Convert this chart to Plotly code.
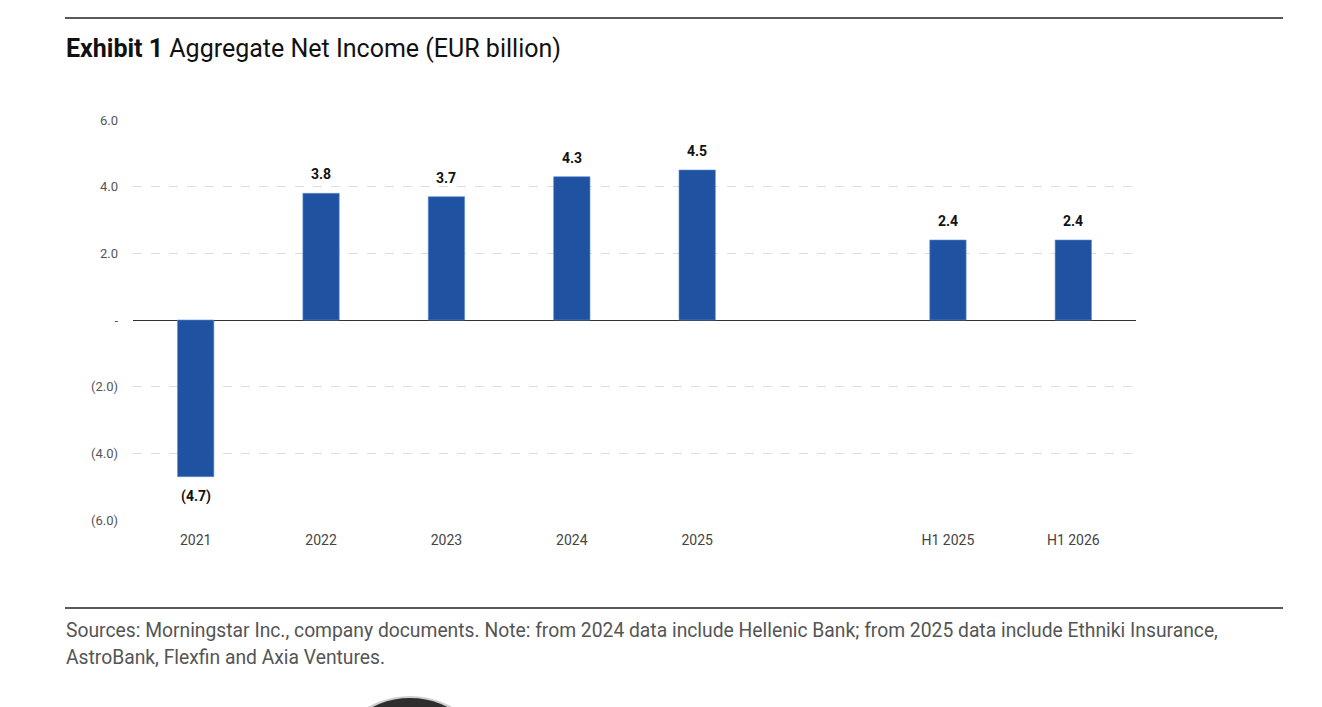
import plotly.graph_objects as go

categories = ["2021", "2022", "2023", "2024", "2025", " ", "H1 2025", "H1 2026"]
values = [-4.7, 3.8, 3.7, 4.3, 4.5, None, 2.4, 2.4]
y_tickvals = [-6, -4, -2, 0, 2, 4, 6]
y_ticktext = ["(6.0)", "(4.0)", "(2.0)", "-", "2.0", "4.0", "6.0"]

FONT = "Roboto, Liberation Sans Narrow, sans-serif"
BAR = "#1f52a0"


def fmt(v):
    return f"({abs(v):.1f})" if v < 0 else f"{v:.1f}"


fig = go.Figure()
fig.add_trace(go.Bar(
    x=categories, y=values,
    marker=dict(color=BAR, line=dict(color="#5d8fd6", width=0.6)),
    hoverinfo="x+y", showlegend=False,
))

annotations = []
for i, v in enumerate(values):
    if v is None:
        continue
    annotations.append(dict(
        x=i, y=v, xref="x", yref="y", text=f"<b>{fmt(v)}</b>", showarrow=False,
        yanchor="bottom" if v >= 0 else "top", yshift=9 if v >= 0 else -9,
        font=dict(family=FONT, size=14, color="#111"),
    ))

annotations += [
    dict(x=-0.069, y=1.18, xref="paper", yref="paper", xanchor="left", yanchor="middle",
         showarrow=False,
         text="<b>Exhibit 1</b> Aggregate Net Income (EUR billion)",
         font=dict(family=FONT, size=25, color="#111")),
    dict(x=-0.069, y=-0.275, xref="paper", yref="paper", xanchor="left", yanchor="middle",
         showarrow=False,
         text="Sources: Morningstar Inc., company documents. Note: from 2024 data include Hellenic Bank; from 2025 data include Ethniki Insurance,",
         font=dict(family=FONT, size=19.3, color="#555")),
    dict(x=-0.069, y=-0.3425, xref="paper", yref="paper", xanchor="left", yanchor="middle",
         showarrow=False,
         text="AstroBank, Flexfin and Axia Ventures.",
         font=dict(family=FONT, size=19.3, color="#555")),
]

shapes = [
    dict(type="line", xref="paper", yref="paper", x0=-0.0678, x1=1.1466, y0=1.255, y1=1.255,
         line=dict(color="#222", width=1.3)),
    dict(type="line", xref="paper", yref="paper", x0=-0.0678, x1=1.1466, y0=-0.22, y1=-0.22,
         line=dict(color="#222", width=1.3)),
    dict(type="circle", xref="paper", yref="paper", x0=0.1914, x1=0.361, y0=-0.8675, y1=-0.4425,
         fillcolor="#2e2e2e", line=dict(color="#cfcfcf", width=2)),
]

fig.update_layout(
    width=1322, height=707,
    margin=dict(l=125, r=194, t=112, b=195),
    paper_bgcolor="white", plot_bgcolor="white",
    bargap=0.71,
    font=dict(family=FONT),
    annotations=annotations, shapes=shapes,
    xaxis=dict(type="category", range=[-0.5, 7.5], showgrid=False, showline=False, ticks="",
               tickfont=dict(family=FONT, size=14, color="#444"), ticklabelstandoff=10,
               zeroline=False),
    yaxis=dict(range=[-6, 6], tickvals=y_tickvals, ticktext=y_ticktext,
               showgrid=True, gridcolor="#dcdcdc", griddash="dash", gridwidth=1,
               zeroline=True, zerolinecolor="#333", zerolinewidth=1.3,
               showline=False, ticks="",
               tickfont=dict(family=FONT, size=13, color="#555"), ticklabelstandoff=14),
)

fig.write_html("out.html")
